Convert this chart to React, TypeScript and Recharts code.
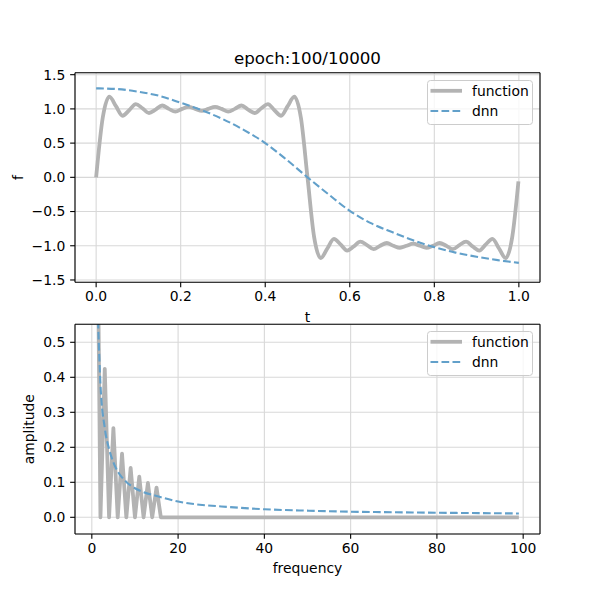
import React from 'react';
import { LineChart, Line, XAxis, YAxis, CartesianGrid, Legend, ReferenceLine } from 'recharts';

const FONT = '"DejaVu Sans", Verdana, sans-serif';
const GRAY = '#b3b3b3';
const BLUE = '#62a0ca';
const GRID = '#d8d8d8';

const chartTitle = 'epoch:100/10000';
const seriesNames = ['function', 'dnn'];

// top panel: target function sampled along t
const timePoints = [
  0, 0.0156, 0.0313, 0.0469, 0.0625, 0.0781, 0.0938, 0.1094, 0.125, 0.1406,
  0.1563, 0.1719, 0.1875, 0.2031, 0.2188, 0.2344, 0.25, 0.2656, 0.2813, 0.2969,
  0.3125, 0.3281, 0.3438, 0.3594, 0.375, 0.3906, 0.4063, 0.4219, 0.4375, 0.4531,
  0.4688, 0.4844, 0.5, 0.5156, 0.5313, 0.5469, 0.5625, 0.5781, 0.5938, 0.6094,
  0.625, 0.6406, 0.6563, 0.6719, 0.6875, 0.7031, 0.7188, 0.7344, 0.75, 0.7656,
  0.7813, 0.7969, 0.8125, 0.8281, 0.8438, 0.8594, 0.875, 0.8906, 0.9063, 0.9219,
  0.9375, 0.9531, 0.9688, 0.9844, 0.999,
];
const functionValues = [
  0, 0.87, 1.18, 1.04, 0.9, 0.98, 1.07, 1.01, 0.94, 0.99,
  1.05, 1.0, 0.96, 1.0, 1.03, 1.0, 0.97, 1.0, 1.03, 1.0,
  0.96, 1.0, 1.05, 0.99, 0.94, 1.01, 1.07, 0.98, 0.9, 1.04,
  1.18, 0.87, 0,
  -0.87, -1.18, -1.04, -0.9, -0.98, -1.07, -1.01, -0.94, -0.99, -1.05,
  -1.0, -0.96, -1.0, -1.03, -1.0, -0.97, -1.0, -1.03, -1.0, -0.96,
  -1.0, -1.05, -0.99, -0.94, -1.01, -1.07, -0.98, -0.9, -1.04, -1.18,
  -0.87, -0.06,
];

// top panel: dnn output
const dnnTimePoints = [
  0, 0.05, 0.1, 0.15, 0.2, 0.25, 0.3, 0.35, 0.4, 0.45, 0.5,
  0.55, 0.6, 0.65, 0.7, 0.75, 0.8, 0.85, 0.9, 0.95, 1.0,
];
const dnnValues = [
  1.3, 1.29, 1.25, 1.19, 1.09, 0.98, 0.85, 0.69, 0.5, 0.26, 0.0,
  -0.25, -0.49, -0.67, -0.8, -0.92, -1.02, -1.1, -1.16, -1.21, -1.25,
];

// bottom panel: amplitude spectra
const spectrumFreqFunction = [1, 2, 3, 4, 5, 6, 7, 8, 9, 10, 11, 12, 13, 14, 15, 16, 99];
const spectrumAmpFunction = [
  1.27, 0, 0.424, 0, 0.255, 0, 0.182, 0, 0.141, 0, 0.116, 0, 0.098, 0, 0.085, 0, 0,
];
const spectrumFreqDnn = [1, 2, 3, 4, 5, 6, 7, 8, 9, 10, 12, 15, 20, 25, 30, 40, 50, 60, 70, 80, 90, 99];
const spectrumAmpDnn = [
  0.75, 0.38, 0.255, 0.195, 0.157, 0.131, 0.114, 0.101, 0.091, 0.083, 0.072,
  0.061, 0.045, 0.036, 0.031, 0.023, 0.019, 0.016, 0.0145, 0.013, 0.012, 0.011,
];

const topXDomain = [-0.05, 1.05];
const topYDomain = [-1.534, 1.529];
const bottomXDomain = [-3.9, 103.9];
const bottomYDomain = [-0.0477, 0.5514];
const topXTicks = [0, 0.2, 0.4, 0.6, 0.8, 1.0];
const topYTicks = [-1.5, -1.0, -0.5, 0, 0.5, 1.0, 1.5];
const bottomXTicks = [0, 20, 40, 60, 80, 100];
const bottomYTicks = [0, 0.1, 0.2, 0.3, 0.4, 0.5];

const topFunctionData = timePoints.map((t, i) => ({ x: t, y: functionValues[i] }));
const topDnnData = dnnTimePoints.map((t, i) => ({ x: t, y: dnnValues[i] }));
const bottomFunctionData = spectrumFreqFunction.map((f, i) => ({ x: f, y: spectrumAmpFunction[i] }));
const bottomDnnData = spectrumFreqDnn.map((f, i) => ({ x: f, y: spectrumAmpDnn[i] }));

const fmt1 = (v: number) => v.toFixed(1).replace('-', '\u2212');
const fmt0 = (v: number) => String(Math.round(v)).replace('-', '\u2212');

const tickStyle = { fontSize: 13.9, fill: '#000', fontFamily: FONT };
const axisLineStyle = { stroke: '#000', strokeWidth: 1.1 };

const LegendBox = () => (
  <svg width={107} height={46} style={{ display: 'block', overflow: 'visible' }}>
    <rect x={0.5} y={0.5} width={105} height={44} rx={3} ry={3} fill="#fff" fillOpacity={0.8} stroke="#cccccc" strokeWidth={1} />
    <line x1={3.5} x2={35} y1={10.8} y2={10.8} stroke={GRAY} strokeWidth={3.8} />
    <text x={45} y={15.8} fontSize={13.9} fontFamily={FONT} fill="#000">{seriesNames[0]}</text>
    <line x1={3.5} x2={35} y1={31} y2={31} stroke={BLUE} strokeWidth={2.1} strokeDasharray="7.7 3.3" />
    <text x={45} y={35.8} fontSize={13.9} fontFamily={FONT} fill="#000">{seriesNames[1]}</text>
  </svg>
);

const textLabel = (text: string, x: number, y: number, size: number, rotate = false) => () => (
  <text
    x={x}
    y={y}
    textAnchor="middle"
    fontSize={size}
    fontFamily={FONT}
    fill="#000"
    transform={rotate ? `rotate(-90, ${x}, ${y})` : undefined}
  >
    {text}
  </text>
);

const frameStyle = { stroke: '#000', strokeWidth: 1.1 };

export default function App() {
  return (
    <div style={{ position: 'absolute', left: 0, top: 0, width: 600, height: 600, background: '#fff' }}>
      <div style={{ position: 'absolute', left: 0, top: 0 }}>
        <LineChart width={600} height={600} margin={{ top: 72.7, right: 60, bottom: 277.7, left: 0 }} style={{ fontFamily: FONT }}>
          <CartesianGrid stroke={GRID} strokeWidth={1.1} />
          <XAxis
            dataKey="x"
            type="number"
            domain={topXDomain}
            allowDataOverflow
            ticks={topXTicks}
            interval={0}
            tickFormatter={fmt1}
            height={40}
            stroke="#000"
            axisLine={axisLineStyle}
            tickLine={axisLineStyle}
            tickSize={4.86}
            tickMargin={4}
            tick={tickStyle}
            label={{ content: textLabel('t', 307.5, 321.7, 13.9) }}
          />
          <YAxis
            type="number"
            domain={topYDomain}
            allowDataOverflow
            ticks={topYTicks}
            interval={0}
            tickFormatter={fmt1}
            width={75}
            stroke="#000"
            axisLine={axisLineStyle}
            tickLine={axisLineStyle}
            tickSize={4.86}
            tickMargin={4.86}
            tick={tickStyle}
            label={{ content: textLabel('f', 22.6, 177.5, 13.9, true) }}
          />
          <Line
            data={topFunctionData}
            dataKey="y"
            name={seriesNames[0]}
            type="monotone"
            stroke={GRAY}
            strokeWidth={3.8}
            strokeLinejoin="round"
            dot={false}
            activeDot={false}
            isAnimationActive={false}
          />
          <Line
            data={topDnnData}
            dataKey="y"
            name={seriesNames[1]}
            type="monotone"
            stroke={BLUE}
            strokeWidth={2.1}
            strokeDasharray="7.7 3.3"
            dot={false}
            activeDot={false}
            isAnimationActive={false}
          />
          <ReferenceLine
            y={topYDomain[1]}
            ifOverflow="visible"
            {...frameStyle}
            label={{ content: textLabel(chartTitle, 307.5, 64, 16.7) }}
          />
          <ReferenceLine x={topXDomain[1]} ifOverflow="visible" {...frameStyle} />
          <Legend
            layout="vertical"
            align="center"
            verticalAlign="middle"
            wrapperStyle={{ left: 426.7, top: 79.7, width: 107, height: 46 }}
            content={() => <LegendBox />}
          />
        </LineChart>
      </div>
      <div style={{ position: 'absolute', left: 0, top: 0 }}>
        <LineChart width={600} height={600} margin={{ top: 324.3, right: 60, bottom: 26, left: 0 }} style={{ fontFamily: FONT }}>
          <CartesianGrid stroke={GRID} strokeWidth={1.1} />
          <XAxis
            dataKey="x"
            type="number"
            domain={bottomXDomain}
            allowDataOverflow
            ticks={bottomXTicks}
            interval={0}
            tickFormatter={fmt0}
            height={40}
            stroke="#000"
            axisLine={axisLineStyle}
            tickLine={axisLineStyle}
            tickSize={4.86}
            tickMargin={4}
            tick={tickStyle}
            label={{ content: textLabel('frequency', 307.5, 573.4, 13.9) }}
          />
          <YAxis
            type="number"
            domain={bottomYDomain}
            allowDataOverflow
            ticks={bottomYTicks}
            interval={0}
            tickFormatter={fmt1}
            width={75}
            stroke="#000"
            axisLine={axisLineStyle}
            tickLine={axisLineStyle}
            tickSize={4.86}
            tickMargin={4.86}
            tick={tickStyle}
            label={{ content: textLabel('amplitude', 34.5, 429.2, 13.9, true) }}
          />
          <Line
            data={bottomFunctionData}
            dataKey="y"
            name={seriesNames[0]}
            type="linear"
            stroke={GRAY}
            strokeWidth={3.8}
            strokeLinejoin="round"
            dot={false}
            activeDot={false}
            isAnimationActive={false}
          />
          <Line
            data={bottomDnnData}
            dataKey="y"
            name={seriesNames[1]}
            type="monotone"
            stroke={BLUE}
            strokeWidth={2.1}
            strokeDasharray="7.7 3.3"
            dot={false}
            activeDot={false}
            isAnimationActive={false}
          />
          <ReferenceLine y={bottomYDomain[1]} ifOverflow="visible" {...frameStyle} />
          <ReferenceLine x={bottomXDomain[1]} ifOverflow="visible" {...frameStyle} />
          <Legend
            layout="vertical"
            align="center"
            verticalAlign="middle"
            wrapperStyle={{ left: 426.7, top: 331.3, width: 107, height: 46 }}
            content={() => <LegendBox />}
          />
        </LineChart>
      </div>
    </div>
  );
}
